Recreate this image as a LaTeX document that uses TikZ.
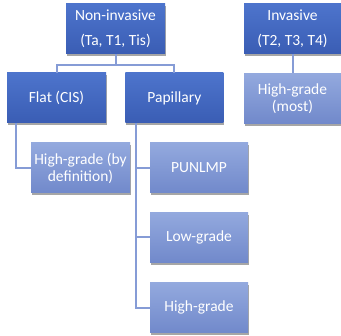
\documentclass[tikz,border=0pt]{standalone}
\usepackage{fontspec}
\setmainfont{Carlito}
\usetikzlibrary{positioning,shadows}
\definecolor{darktop}{HTML}{4D74CC}
\definecolor{darkbot}{HTML}{3A5DB4}
\definecolor{lighttop}{HTML}{93A9DE}
\definecolor{lightbot}{HTML}{7189CB}
\definecolor{linkblue}{HTML}{869CD6}
\tikzset{
  every box/.style={
    rectangle, align=center, text=white, inner sep=0.5pt,
    minimum height=50pt, minimum width=98pt,
    font=\fontsize{15.5pt}{17pt}\selectfont,
    drop shadow={shadow xshift=1pt, shadow yshift=-2.5pt, opacity=.35, fill=black},
  },
}

\begin{document}
\begin{tikzpicture}[
        x=1pt, y=-1pt,
        darkbox/.style={
             every box
            , top color=darktop
            , bottom color=darkbot
        },
        lightbox/.style={
             every box
            , top color=lighttop
            , bottom color=lightbot
        },
        link/.style={
             draw=linkblue
            , line width=2pt
        }
        ]
        \useasboundingbox[fill=white] (0,0) rectangle (341,336);

        \node[darkbox,minimum width=99pt] (noninv) at (115.5,29) {Non-invasive\\[8pt](Ta, T1, Tis)};
        \node[darkbox,minimum width=97pt] (inv) at (292.5,29) {Invasive\\[8pt](T2, T3, T4)};
        \node[darkbox,minimum width=99pt] (flat) at (56.5,98) {Flat (CIS)};
        \node[darkbox,right=19pt of flat] (pap) {Papillary};
        \node[lightbox,minimum width=97pt,below=19pt of inv] (most) {High-grade\\(most)};

        \node[lightbox,minimum width=99pt] (hgdef) at (80.5,168) {High-grade (by\\definition)};
        \node[lightbox] (punlmp) at (199,168) {PUNLMP};
        \node[lightbox,below=19pt of punlmp] (lowg) {Low-grade};
        \node[lightbox,below=20pt of lowg] (highg) {High-grade};

        \draw[link] (noninv.south) -- ++(0,11) -| (flat.north);
        \draw[link] (noninv.south) -- ++(0,11) -| (pap.north);
        \draw[link] (inv) -- (most);

        \draw[link] ([xshift=9pt]flat.south west) |- (hgdef.west);
        \draw[link] ([xshift=11pt]pap.south west) |- (punlmp.west);
        \draw[link] ([xshift=11pt]pap.south west) |- (lowg.west);
        \draw[link] ([xshift=11pt]pap.south west) |- (highg.west);
    \end{tikzpicture}
\end{document}
